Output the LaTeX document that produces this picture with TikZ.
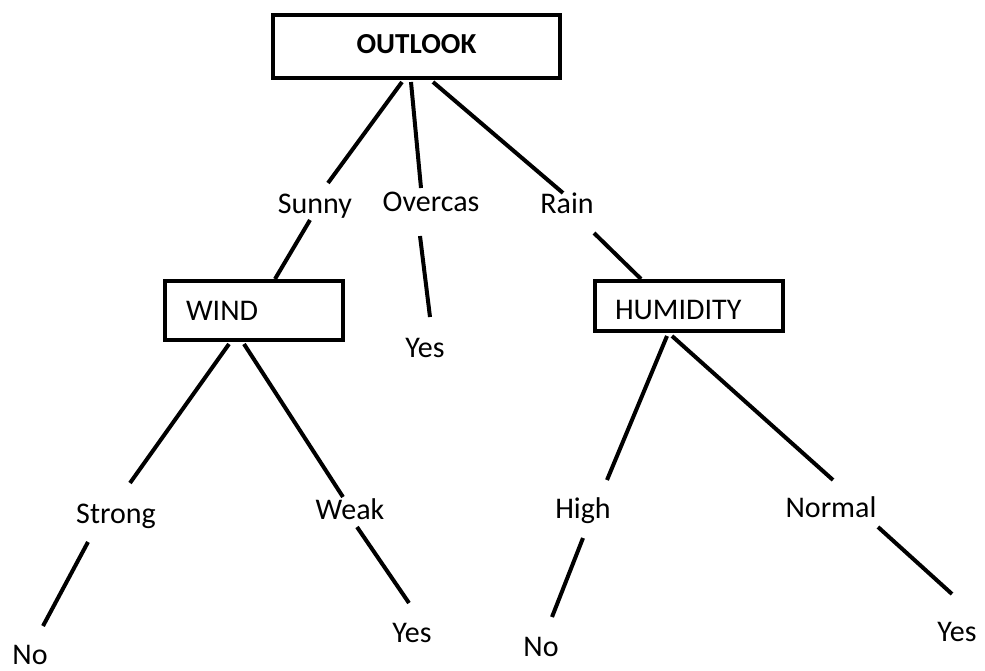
\documentclass[tikz,border=0pt]{standalone}
\usepackage{fontspec}
\setmainfont{Carlito}
\usetikzlibrary{calc}

\begin{document}
\begin{tikzpicture}[
    x=1pt,
    y=-1pt,
    font=\fontsize{30}{36}\selectfont,
    box/.style={draw, line width=4pt, rectangle, text height=19pt, text depth=0pt},
    lbl/.style={anchor=base, inner sep=0pt},
    edge/.style={line width=4pt}
  ]
    \useasboundingbox (0,0) rectangle (985,670);

    % Cajas de decisión
    \node[box, minimum width=287pt, minimum height=63pt, text depth=6pt,
      font=\fontsize{29}{35}\selectfont\bfseries] (outlook) at (416.5, 46.5) {OUTLOOK};
    \node[box, minimum width=178pt, minimum height=59pt, inner xsep=21pt,
      text width=136pt, align=left] (wind) at (254, 310.5) {WIND};
    \node[box, minimum width=188pt, minimum height=50pt, inner xsep=20pt,
      text width=148pt, align=left, text height=27pt] (humidity) at (689, 306) {HUMIDITY};

    % --- Ramas de OUTLOOK ---
    \node[lbl] (sunny) at (315, 213) {Sunny};
    \node[lbl] (overcas) at (431, 211) {Overcas};
    \node[lbl] (rain) at (567, 213) {Rain};
    \node[lbl] (yesA) at (425, 357) {Yes};

    % --- Ramas de WIND ---
    \node[lbl] (strong) at (116, 523) {Strong};
    \node[lbl] (weak) at (350, 519) {Weak};
    \node[lbl] (noA) at (30, 664) {No};
    \node[lbl] (yesB) at (412, 642) {Yes};

    % --- Ramas de HUMIDITY ---
    \node[lbl] (high) at (583, 518) {High};
    \node[lbl] (normal) at (831, 517) {Normal};
    \node[lbl] (noB) at (541, 656) {No};
    \node[lbl] (yesC) at (957, 641) {Yes};

    % Conectores
    \draw[edge] ($(outlook.south)+(-14.5,2)$) -- ($(sunny.base)+(13,-30)$);
    \draw[edge] ($(outlook.south)+(-5.5,2)$) -- ($(overcas.base)+(-10,-23)$);
    \draw[edge] ($(outlook.south)+(16.5,2)$) -- ($(rain.base)+(-4,-20)$);
    \draw[edge] ($(sunny.base)+(-5,7)$) -- ($(wind.north)+(21,0)$);
    \draw[edge] ($(overcas.base)+(-11,25)$) -- ($(yesA.base)+(5,-40)$);
    \draw[edge] ($(rain.base)+(27,20)$) -- ($(humidity.north)+(-48,0)$);

    \draw[edge] ($(wind.south)+(-25,2)$) -- ($(strong.base)+(14,-40)$);
    \draw[edge] ($(wind.south)+(-10,2)$) -- ($(weak.base)+(-7,-22)$);
    \draw[edge] ($(strong.base)+(-28,19)$) -- ($(noA.base)+(13,-38)$);
    \draw[edge] ($(weak.base)+(7,8)$) -- ($(yesB.base)+(-3,-39)$);

    \draw[edge] ($(humidity.south)+(-22,3)$) -- ($(high.base)+(24,-38)$);
    \draw[edge] ($(humidity.south)+(-17,3)$) -- ($(normal.base)+(2,-37)$);
    \draw[edge] ($(high.base)+(0,20)$) -- ($(noB.base)+(11,-39)$);
    \draw[edge] ($(normal.base)+(47,10)$) -- ($(yesC.base)+(-5,-47)$);
  \end{tikzpicture}
\end{document}
